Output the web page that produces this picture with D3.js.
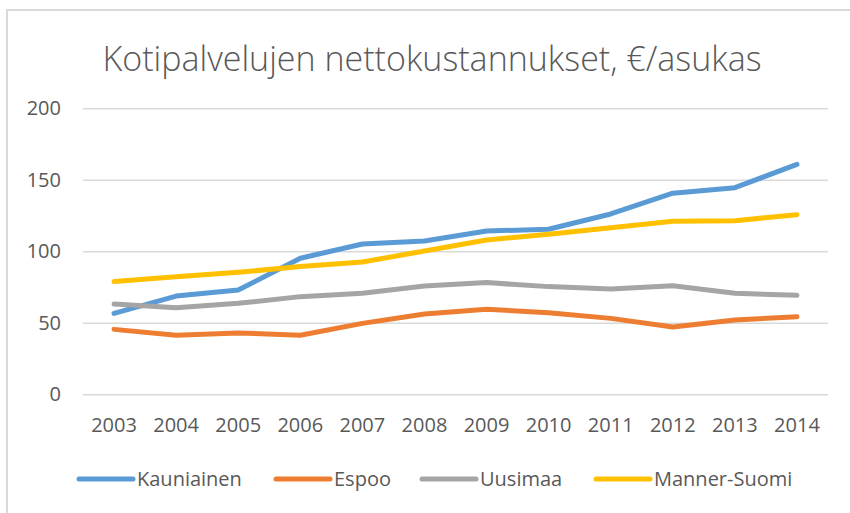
<!DOCTYPE html>
<html><head><meta charset="utf-8">
<script src="https://cdn.jsdelivr.net/npm/d3@7"></script>
<style>
html,body{margin:0;padding:0;background:#fff;}
svg{display:block;font-family:"Open Sans",sans-serif;}
</style></head>
<body>
<script>
const years = ["2003","2004","2005","2006","2007","2008","2009","2010","2011","2012","2013","2014"];
const kauniainen = [56.6,68.7,72.9,95.1,105.1,107.2,114.2,115.4,126.1,140.6,144.5,160.8];
const espoo = [45.4,41.3,42.9,41.3,49.6,56.2,59.4,57.1,53.1,47.1,52.0,54.3];
const uusimaa = [63.1,60.6,63.6,68.3,70.6,75.7,78.1,75.3,73.6,75.9,70.6,69.2];
const mannerSuomi = [78.8,82.2,85.3,89.3,92.5,100.2,107.9,111.9,116.5,121.0,121.4,125.6];
const seriesNames = ["Kauniainen","Espoo","Uusimaa","Manner-Suomi"];
const yTicks = [0,50,100,150,200];
const title = "Kotipalvelujen nettokustannukset, €/asukas";

const series = [
  {name: seriesNames[0], values: kauniainen, color: "#5b9bd5"},
  {name: seriesNames[1], values: espoo, color: "#ed7d31"},
  {name: seriesNames[2], values: uusimaa, color: "#a5a5a5"},
  {name: seriesNames[3], values: mannerSuomi, color: "#ffc000"}
];

const W = 850, H = 513;
const svg = d3.select("body").append("svg").attr("width", W).attr("height", H);

// chart border
svg.append("path").attr("d", `M7,${H+2} V10 H${W+2}`)
  .attr("fill","none").attr("stroke","#d9d9d9").attr("stroke-width",2);

const plot = {left: 83, right: 828, top: 108.3, bottom: 394.3};
const x = d3.scaleBand().domain(years).range([plot.left, plot.right]);
const y = d3.scaleLinear().domain([0,200]).range([plot.bottom, plot.top]);

svg.append("text").attr("x", 432).attr("y", 71).attr("text-anchor","middle")
  .attr("font-size", 34).attr("font-weight", 300).attr("fill", "#595959").text(title);

// gridlines
const yAxis = d3.axisLeft(y).tickValues(yTicks).tickSize(-(plot.right-plot.left)).tickPadding(22);
const gy = svg.append("g").attr("transform", `translate(${plot.left},0)`).call(yAxis);
gy.select(".domain").remove();
gy.selectAll(".tick line").attr("stroke","#d9d9d9").attr("stroke-width",1.5);
gy.selectAll(".tick text").attr("font-size",20).attr("fill","#595959").attr("font-family","Open Sans");

const xAxis = d3.axisBottom(x).tickSize(0).tickPadding(24);
const gx = svg.append("g").attr("transform", `translate(0,${plot.bottom})`).call(xAxis);
gx.select(".domain").remove();
gx.selectAll(".tick text").attr("font-size",20).attr("fill","#595959").attr("font-family","Open Sans");

const line = d3.line().x((d,i) => x(years[i]) + x.bandwidth()/2).y(d => y(d));
svg.append("g").selectAll("path").data(series).join("path")
  .attr("d", d => line(d.values)).attr("fill","none")
  .attr("stroke", d => d.color).attr("stroke-width", 5)
  .attr("stroke-linecap","round").attr("stroke-linejoin","round");

// legend
const legendX = [79, 276, 422, 596];
const lg = svg.append("g").selectAll("g").data(series).join("g")
  .attr("transform", (d,i) => `translate(${legendX[i]},479)`);
lg.append("line").attr("x1",0).attr("x2",54).attr("y1",0).attr("y2",0)
  .attr("stroke", d => d.color).attr("stroke-width",5).attr("stroke-linecap","round");
lg.append("text").attr("x",58).attr("y",7).attr("font-size",20).attr("fill","#595959")
  .text(d => d.name);
</script>
</body></html>
